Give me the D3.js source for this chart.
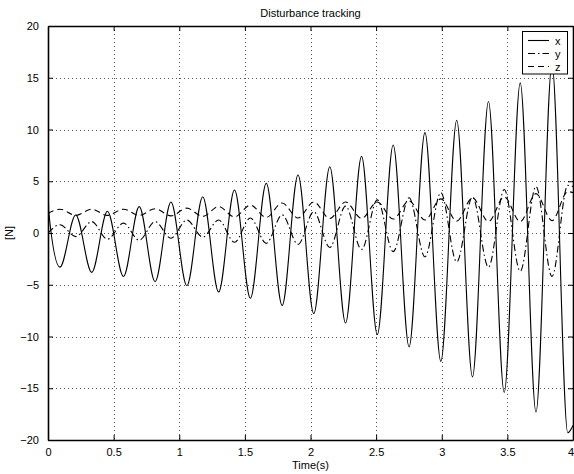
<!DOCTYPE html>
<html><head><meta charset="utf-8">
<script src="https://cdn.jsdelivr.net/npm/d3@7"></script>
<style>
html,body{margin:0;padding:0;background:#fff;}
svg{display:block;font-family:"Liberation Sans",Arial,Helvetica,sans-serif;}
</style></head>
<body>
<svg id="chart" width="574" height="474"></svg>
<script>
// ---- data ----
const xTicks = [0, 0.5, 1, 1.5, 2, 2.5, 3, 3.5, 4];
const yTicks = [-20, -15, -10, -5, 0, 5, 10, 15, 20];
const seriesNames = ["x", "y", "z"];

// times of the extrema (x troughs / x peaks)
const tA = [0.091, 0.333, 0.575, 0.816, 1.058, 1.300, 1.542, 1.784, 2.025, 2.267, 2.509, 2.751, 2.993, 3.234, 3.476, 3.718, 3.960];
const tB = [0.211, 0.453, 0.695, 0.937, 1.179, 1.421, 1.663, 1.905, 2.147, 2.389, 2.630, 2.872, 3.114, 3.356, 3.598, 3.840];

// x (solid)
const xStartT = [0, 0.006];
const xStartV = [5.8, 2.0];
const xAtA = [-3.3, -3.8, -4.2, -4.7, -5.1, -5.7, -6.3, -7.0, -7.8, -8.7, -9.8, -11.0, -12.4, -13.9, -15.4, -17.3, -19.3];
const xAtB = [1.74, 2.1, 2.55, 3.0, 3.5, 4.15, 4.8, 5.6, 6.4, 7.4, 8.5, 9.7, 10.9, 12.7, 14.5, 16.3];
const xEnd = -18.6;

// y (dash-dot)
const yStartT = [0];
const yStartV = [0];
const yAtA = [0.8, 1.1, 0.95, 1.1, 1.25, 1.25, 1.45, 1.75, 2.05, 2.6, 3.2, 3.4, 3.9, 3.5, 4.2, 4.5, 4.6];
const yAtB = [-0.35, -0.6, -0.7, -0.5, -0.4, -0.9, -1.0, -1.1, -1.4, -1.6, -1.8, -2.3, -2.8, -3.3, -3.7, -4.2];
const yEnd = 4.5;

// z (dashed)
const zStartT = [0];
const zStartV = [1.9];
const zAtA = [2.3, 2.3, 2.3, 2.35, 2.4, 2.55, 2.7, 2.9, 3.0, 3.0, 3.0, 3.1, 3.3, 3.4, 3.5, 3.8, 4.0];
const zAtB = [1.7, 1.7, 1.7, 1.65, 1.6, 1.55, 1.5, 1.45, 1.4, 1.4, 1.35, 1.25, 1.15, 1.1, 1.1, 1.2];
const zEnd = 3.9;

// ---- build point lists ----
function build(startT, startV, atA, atB, endV) {
  const pts = [];
  startT.forEach((t, i) => pts.push([t, startV[i]]));
  tA.forEach((t, i) => pts.push([t, atA[i]]));
  tB.forEach((t, i) => pts.push([t, atB[i]]));
  pts.push([4, endV]);
  return pts.sort((a, b) => a[0] - b[0]);
}
const series = [
  {name: "x", pts: build(xStartT, xStartV, xAtA, xAtB, xEnd), dash: null},
  {name: "y", pts: build(yStartT, yStartV, yAtA, yAtB, yEnd), dash: "7,3,1.5,3"},
  {name: "z", pts: build(zStartT, zStartV, zAtA, zAtB, zEnd), dash: "6,4"}
];

// ---- layout ----
const L = 48, R = 573, T = 26, B = 440;
const svg = d3.select("#chart");
const x = d3.scaleLinear().domain([0, 4]).range([L, R]);
const y = d3.scaleLinear().domain([-20, 20]).range([B, T]);

svg.append("defs").append("clipPath").attr("id", "clip")
  .append("rect").attr("x", L).attr("y", T).attr("width", R - L).attr("height", B - T);

// grid
const grid = svg.append("g");
grid.selectAll(".gx").data(xTicks.slice(1, -1)).enter().append("line")
  .attr("x1", d => Math.round(x(d)) + 0.5).attr("x2", d => Math.round(x(d)) + 0.5)
  .attr("y1", T).attr("y2", B)
  .attr("stroke", "#555").attr("stroke-width", 1).attr("stroke-dasharray", "1,3");
grid.selectAll(".gy").data(yTicks.slice(1, -1)).enter().append("line")
  .attr("y1", d => Math.round(y(d)) + 0.5).attr("y2", d => Math.round(y(d)) + 0.5)
  .attr("x1", L).attr("x2", R)
  .attr("stroke", "#555").attr("stroke-width", 1).attr("stroke-dasharray", "1,3");

// series
const line = d3.line().x(d => x(d[0])).y(d => y(d[1])).curve(d3.curveMonotoneX);
const gs = svg.append("g").attr("clip-path", "url(#clip)");
series.forEach(s => {
  gs.append("path").datum(s.pts).attr("d", line)
    .attr("fill", "none").attr("stroke", "#000").attr("stroke-width", 1.1)
    .attr("stroke-dasharray", s.dash);
});

// axes (MATLAB style, inward ticks on all sides)
const fmt = d => (d < 0 ? "\u2212" + Math.abs(d) : String(d));
const axB = svg.append("g").attr("transform", `translate(0,${B})`)
  .call(d3.axisBottom(x).tickValues(xTicks).tickSizeInner(-5).tickSizeOuter(0).tickPadding(8).tickFormat(d => String(d)));
const axT = svg.append("g").attr("transform", `translate(0,${T})`)
  .call(d3.axisTop(x).tickValues(xTicks).tickSizeInner(-5).tickSizeOuter(0).tickFormat(""));
const axL = svg.append("g").attr("transform", `translate(${L},0)`)
  .call(d3.axisLeft(y).tickValues(yTicks).tickSizeInner(-5).tickSizeOuter(0).tickPadding(9).tickFormat(fmt));
const axR = svg.append("g").attr("transform", `translate(${R},0)`)
  .call(d3.axisRight(y).tickValues(yTicks).tickSizeInner(-5).tickSizeOuter(0).tickFormat(""));
[axB, axT, axL, axR].forEach(a => {
  a.select(".domain").attr("stroke", "#000").attr("stroke-width", 1.6);
  a.selectAll(".tick line").attr("stroke", "#000").attr("stroke-width", 1);
  a.selectAll("text").attr("fill", "#000").attr("font-size", 11)
    .attr("font-family", "Liberation Sans, Arial, sans-serif");
});
// keep last x label inside the page
axB.selectAll(".tick text").filter(d => d === 4).attr("text-anchor", "end").attr("dx", "0.5");

// titles
svg.append("text").attr("x", (L + R) / 2).attr("y", 17).attr("text-anchor", "middle")
  .attr("font-size", 11).text("Disturbance tracking");
svg.append("text").attr("x", (L + R) / 2).attr("y", 469).attr("text-anchor", "middle")
  .attr("font-size", 11).text("Time(s)");
svg.append("text").attr("transform", `translate(13,${(T + B) / 2}) rotate(-90)`)
  .attr("text-anchor", "middle").attr("font-size", 11).text("[N]");

// legend
const lg = svg.append("g");
lg.append("rect").attr("x", 522.5).attr("y", 31.5).attr("width", 45).attr("height", 42.5)
  .attr("fill", "#fff").attr("stroke", "#000").attr("stroke-width", 1);
series.forEach((s, i) => {
  const yy = 40.5 + i * 13;
  lg.append("line").attr("x1", 528).attr("x2", 549).attr("y1", yy).attr("y2", yy)
    .attr("stroke", "#000").attr("stroke-width", 1.1).attr("stroke-dasharray", s.dash);
  lg.append("text").attr("x", 555).attr("y", yy + 4).attr("font-size", 11).text(seriesNames[i]);
});
</script>
</body></html>
